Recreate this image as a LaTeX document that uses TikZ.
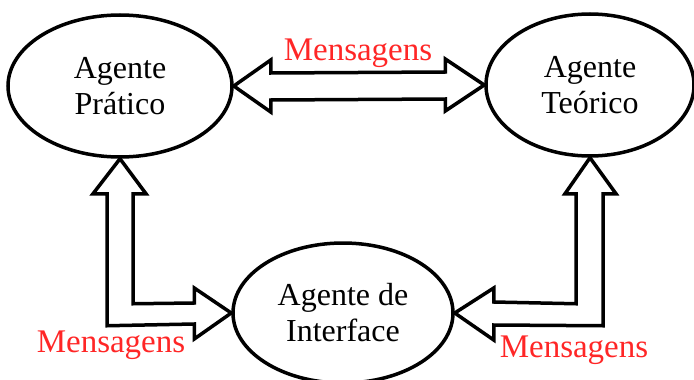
\documentclass[tikz,border=0pt]{standalone}
\usepackage{fontspec}
\setmainfont{Liberation Serif}
\usetikzlibrary{shapes.geometric,calc}
\definecolor{msgred}{HTML}{FF2626}
\begin{document}
\begin{tikzpicture}[x=1pt,y=-1pt,
  agent/.style={ellipse,draw,line width=3.5pt,inner sep=0pt,align=center,
    font=\fontsize{32}{36}\selectfont},
  blockarrow/.style={draw,line width=3.5pt,line join=miter,fill=white},
  msg/.style={text=msgred,anchor=base,inner sep=0pt,font=\fontsize{33}{36}\selectfont}]
\useasboundingbox (0,0) rectangle (694,380);

% the three agents
\node[agent,minimum width=224,minimum height=142] (pratico) at (120,86) {Agente\\Prático};
\node[agent,minimum width=208,minimum height=142] (teorico) at (590,85) {Agente\\Teórico};
\node[agent,minimum width=220,minimum height=140] (interface) at (343,313) {Agente de\\Interface};

% two-headed block arrow between the upper agents
\draw[blockarrow] (pratico.east) -- ++(37,-26) -- ++(0,13) -- ($(teorico.west)+(-39,-13)$)
  -- ++(0,-13) -- (teorico.west) -- ++(-39,26) -- ++(0,-12) -- ($(pratico.east)+(37,14)$)
  -- ++(0,12) -- cycle;

% L-shaped block arrow: Agente Prático <-> Agente de Interface
\draw[blockarrow] (pratico.south) -- ++(26,35) -- ++(-13,0) -- ++(0,110)
  -- ($(interface.west)+(-37,-10)$) -- ++(0,-15) -- (interface.west) -- ++(-37,26)
  -- ++(0,-15) -- ($(pratico.south)+(-13,167)$) -- ++(0,-132) -- ++(-14,0) -- cycle;

% L-shaped block arrow: Agente Teórico <-> Agente de Interface
\draw[blockarrow] (teorico.south) -- ++(26,36) -- ++(-13,0) -- ++(0,132)
  -- ($(interface.east)+(39,12)$) -- ++(0,15) -- (interface.east) -- ++(39,-25)
  -- ++(0,14) -- ($(teorico.south)+(-14,146)$) -- ++(0,-110) -- ++(-11,0) -- cycle;

% message labels
\node[msg] (m1) at (358,60) {Mensagens};
\node[msg] (m2) at (111,352) {Mensagens};
\node[msg] (m3) at (574,357) {Mensagens};
\end{tikzpicture}
\end{document}
